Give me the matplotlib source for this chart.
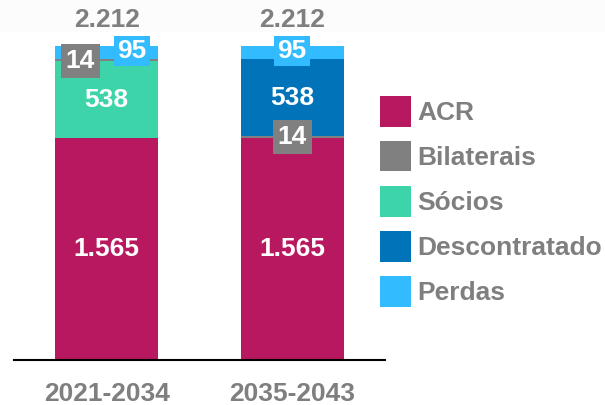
import matplotlib
matplotlib.use("Agg")
import matplotlib.pyplot as plt
from matplotlib.patches import Rectangle

plt.rcParams['font.family'] = ['Liberation Sans', 'DejaVu Sans']

periods = ["2021-2034", "2035-2043"]
series = ["ACR", "Bilaterais", "Sócios", "Descontratado", "Perdas"]
acr = [1565, 1565]
bilaterais = [14, 14]
socios = [538, 0]
descontratado = [0, 538]
perdas = [95, 95]
totals = [2212, 2212]
colors = {"ACR": "#B8185F", "Bilaterais": "#808080", "Sócios": "#3DD4AA",
          "Descontratado": "#0073B9", "Perdas": "#33BBFF"}
gray_txt = "#7F7F7F"
FS = 19

# stacking order per bar (bottom to top)
stack_order = [
    [("ACR", acr[0]), ("Sócios", socios[0]), ("Bilaterais", bilaterais[0]), ("Perdas", perdas[0])],
    [("ACR", acr[1]), ("Bilaterais", bilaterais[1]), ("Descontratado", descontratado[1]), ("Perdas", perdas[1])],
]

fig = plt.figure(figsize=(6.05, 4.05), dpi=100)
# faint top band
fig.patches.append(Rectangle((0, 1 - 32/405), 1, 32/405, transform=fig.transFigure,
                             facecolor="#FCFCFC", edgecolor="none", zorder=-5))

ax = fig.add_axes([14/605, 45/405, 371/605, 360/405])
ax.set_zorder(2)
ax.set_facecolor("none")
ax.set_xlim(-0.5, 1.5)
ax.set_ylim(0, totals[0] * 360 / 314)

width = 0.555
for i, stack in enumerate(stack_order):
    bottom = 0
    for name, val in stack:
        if val > 0:
            ax.bar(i, val, width, bottom=bottom, color=colors[name], edgecolor="none", zorder=2)
        bottom += val

lbl = dict(color="white", fontsize=FS, fontweight="bold", ha="center", va="center", zorder=5)
# ACR labels
for i in range(2):
    ax.text(i, acr[i] / 2, f"{acr[i]/1000:.3f}", **lbl)
# 538 labels
ax.text(0, acr[0] + socios[0] / 2, str(socios[0]), **lbl)
ax.text(1, acr[1] + bilaterais[1] + descontratado[1] / 2, str(descontratado[1]), **lbl)

box_gray = dict(boxstyle="square,pad=0.18", facecolor=colors["Bilaterais"], edgecolor="none")
box_blue = dict(boxstyle="square,pad=0.12", facecolor=colors["Perdas"], edgecolor="none")
# Bar 1 small labels
y_bil0 = acr[0] + socios[0] + bilaterais[0] / 2
ax.text(-0.143, y_bil0 - 5, str(bilaterais[0]), bbox=box_gray, **lbl)
y_per0 = acr[0] + socios[0] + bilaterais[0] + perdas[0] / 2
ax.text(0.137, y_per0 + 12, str(perdas[0]), bbox=box_blue, **lbl)
# Bar 2 small labels
ax.text(1, acr[1] + bilaterais[1] / 2, str(bilaterais[1]), bbox=box_gray, **lbl)
y_per1 = acr[1] + bilaterais[1] + descontratado[1] + perdas[1] / 2
ax.text(1, y_per1 + 12, str(perdas[1]), bbox=box_blue, **lbl)

# totals
for i in range(2):
    ax.text(i, totals[i] + 180, f"{totals[i]/1000:.3f}", color=gray_txt, fontsize=FS,
            fontweight="bold", ha="center", va="center")

for s in ["top", "right", "left"]:
    ax.spines[s].set_visible(False)
ax.spines["bottom"].set_linewidth(1.5)
ax.spines["bottom"].set_color("black")
ax.set_yticks([])
ax.set_xticks([0, 1])
ax.set_xticklabels(periods, fontsize=FS, fontweight="bold", color=gray_txt)
ax.tick_params(axis="x", length=0, pad=16)

# legend
leg_y = [111, 156, 201, 246, 291]
for name, yc in zip(series, leg_y):
    fig.patches.append(Rectangle((380/605, 1 - (yc + 15.5)/405), 31/605, 31/405,
                                 transform=fig.transFigure, facecolor=colors[name],
                                 edgecolor="none"))
    fig.text(417/605, 1 - (yc + 2)/405, name, color=gray_txt, fontsize=FS,
             fontweight="bold", ha="left", va="center")

fig.savefig("out.png", dpi=100)
